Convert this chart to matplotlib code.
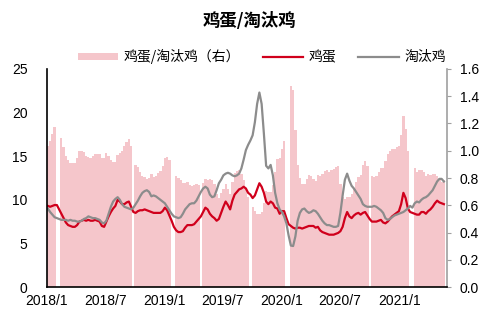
import pandas as pd
import numpy as np
import matplotlib.pyplot as plt
from matplotlib.patches import Patch
from matplotlib.lines import Line2D

plt.rcParams['font.family'] = ['Noto Sans CJK SC', 'DejaVu Sans']

# weekly prices, yuan/kg
egg = [
    9.3, 9.2, 9.3, 9.4, 9.4, 8.9, 8.4, 7.9, 7.4, 7.1,
    7.0, 6.9, 6.9, 7.1, 7.5, 7.6, 7.7, 7.6, 7.7, 7.6,
    7.6, 7.7, 7.6, 7.5, 7.0, 6.9, 7.5, 8.1, 8.6, 9.0,
    9.3, 10.0, 9.8, 9.5, 9.5, 9.7, 9.8, 9.2, 8.6, 8.5,
    8.7, 8.8, 8.8, 8.9, 8.8, 8.7, 8.6, 8.5, 8.5, 8.5,
    8.5, 8.7, 9.1, 8.8, 8.2, 7.6, 6.9, 6.5, 6.3, 6.3,
    6.4, 6.8, 7.1, 7.1, 7.1, 7.2, 7.5, 7.8, 8.1, 8.6,
    9.1, 8.9, 8.4, 8.1, 7.9, 7.6, 7.8, 8.5, 9.2, 9.8,
    9.4, 8.9, 9.9, 10.6, 10.9, 11.2, 11.3, 11.5, 11.3, 10.8,
    10.6, 10.2, 10.5, 11.2, 11.9, 11.5, 10.8, 9.8, 9.5, 9.8,
    9.6, 9.1, 9.0, 8.4, 8.7, 8.7, 7.9, 7.2, 7.0, 6.8,
    6.7, 6.8, 6.8, 6.7, 6.8, 6.9, 7.0, 7.0, 7.0, 6.8,
    6.9, 6.5, 6.3, 6.2, 6.1, 6.0, 6.0, 6.0, 6.1, 6.2,
    6.4, 6.9, 7.9, 8.6, 8.1, 7.9, 8.2, 8.4, 8.5, 8.3,
    8.5, 8.6, 8.2, 7.8, 7.5, 7.5, 7.5, 7.6, 7.7, 7.4,
    7.3, 7.5, 7.8, 8.1, 8.3, 8.5, 8.7, 9.5, 10.8, 10.2,
    9.0, 8.6, 8.5, 8.4, 8.3, 8.3, 8.6, 8.6, 8.4, 8.7,
    8.9, 9.2, 9.6, 9.9, 9.7, 9.6, 9.5,
]
hen = [
    9.0, 8.6, 8.3, 8.0, 7.9, 7.8, 7.7, 7.7, 7.7, 7.6,
    7.7, 7.6, 7.6, 7.5, 7.5, 7.6, 7.8, 7.9, 8.1, 8.0,
    7.9, 7.9, 7.8, 7.7, 7.4, 7.3, 7.6, 8.4, 9.2, 9.8,
    10.1, 10.3, 10.0, 9.5, 9.2, 9.1, 9.0, 8.9, 9.1, 9.5,
    9.9, 10.4, 10.8, 11.0, 11.1, 10.9, 10.4, 10.5, 10.4, 10.2,
    10.0, 9.8, 9.6, 9.2, 8.8, 8.4, 8.1, 8.0, 7.9, 8.0,
    8.4, 8.9, 9.2, 9.5, 9.6, 9.6, 9.9, 10.4, 10.9, 11.3,
    11.5, 11.3, 10.6, 10.3, 10.4, 11.1, 11.9, 12.3, 12.8, 13.0,
    13.1, 13.0, 12.8, 12.7, 12.8, 13.0, 13.6, 14.6, 15.7, 16.3,
    16.8, 17.4, 18.9, 21.0, 22.3, 21.0, 17.6, 13.9, 13.6, 14.0,
    12.8, 10.8, 9.6, 8.9, 8.6, 8.1, 7.3, 5.9, 4.75, 4.7,
    5.8, 7.6, 8.5, 8.9, 9.0, 8.7, 8.5, 8.6, 8.8, 8.7,
    8.4, 8.0, 7.6, 7.3, 7.1, 7.1, 7.0, 6.9, 6.9, 7.0,
    8.5, 10.5, 12.3, 13.0, 12.2, 11.6, 11.3, 10.9, 10.5, 10.1,
    9.5, 9.3, 9.2, 9.2, 9.2, 9.3, 9.2, 9.0, 8.8, 8.5,
    7.9, 7.7, 7.8, 8.0, 8.2, 8.3, 8.4, 8.5, 8.6, 8.8,
    9.0, 9.3, 9.1, 9.6, 9.8, 9.7, 10.0, 10.2, 10.3, 10.5,
    10.8, 11.1, 11.6, 12.1, 12.4, 12.4, 12.1,
]
# weeks with no ratio published (holidays)
missing_weeks = [4, 5, 38, 55, 56, 68, 90, 106, 107, 143, 161, 162]

dates = pd.date_range('2018-01-04', periods=len(egg), freq='7D')
ratio = np.array(egg) / np.array(hen)
ratio[missing_weeks] = np.nan

PINK = '#F5C6CB'
RED = '#D0001C'
GREY = '#8C8C8C'
num_font = ['Liberation Sans', 'DejaVu Sans']

fig = plt.figure(figsize=(4.99, 3.27), dpi=100)
ax = fig.add_axes([0.094, 0.1223, 0.802, 0.6667])
ax2 = ax.twinx()

ax2.bar(dates, ratio, width=7, color=PINK, linewidth=0)
ax.plot(dates, egg, color=RED, lw=1.6)
ax.plot(dates, hen, color=GREY, lw=1.6)

# lines on top of the bars
ax.set_zorder(ax2.get_zorder() + 1)
ax.patch.set_visible(False)

ax.set_ylim(0, 25)
ax.set_yticks([0, 5, 10, 15, 20, 25])
ax2.set_ylim(0, 1.6)
ax2.set_yticks(np.arange(0, 1.61, 0.2))
ax2.yaxis.set_major_formatter(plt.FormatStrFormatter('%.1f'))

ax.set_xlim(pd.Timestamp('2018-01-01'), pd.Timestamp('2021-05-30'))
ticks = pd.to_datetime(['2018-01-01', '2018-07-01', '2019-01-01', '2019-07-01',
                        '2020-01-01', '2020-07-01', '2021-01-01'])
ax.set_xticks(ticks)
ax.set_xticklabels([f'{d.year}/{d.month}' for d in ticks])

for a in (ax, ax2):
    a.spines['top'].set_visible(False)
ax.spines['right'].set_visible(False)
ax2.spines['left'].set_visible(False)
ax2.spines['bottom'].set_visible(False)
ax.spines['left'].set_color('black')
ax.spines['bottom'].set_color('black')
ax.spines['left'].set_linewidth(1.2)
ax.spines['bottom'].set_linewidth(1.2)
ax2.spines['right'].set_color('#A0A0A0')
ax2.spines['right'].set_linewidth(1.2)

ax.tick_params(axis='y', length=0, labelsize=10, pad=14)
ax.tick_params(axis='x', length=0, labelsize=10, pad=5)
ax2.tick_params(axis='y', length=3, color='#A0A0A0', labelsize=10, pad=6)
for lbl in ax.get_xticklabels() + ax.get_yticklabels() + ax2.get_yticklabels():
    lbl.set_family(num_font)

fig.text(0.5, 0.935, '鸡蛋/淘汰鸡', ha='center', va='center',
         fontsize=12.5, fontweight='bold')

handles = [
    Patch(facecolor=PINK, edgecolor='none'),
    Line2D([], [], color=RED, lw=1.6),
    Line2D([], [], color=GREY, lw=1.6),
]
fig.legend(handles, ['鸡蛋/淘汰鸡（右）', '鸡蛋', '淘汰鸡'],
           loc='center', bbox_to_anchor=(0.525, 0.826), ncol=3,
           frameon=False, fontsize=10, handlelength=2.9, handleheight=0.45,
           columnspacing=1.6, handletextpad=0.4)

fig.savefig('out.png', dpi=100)
